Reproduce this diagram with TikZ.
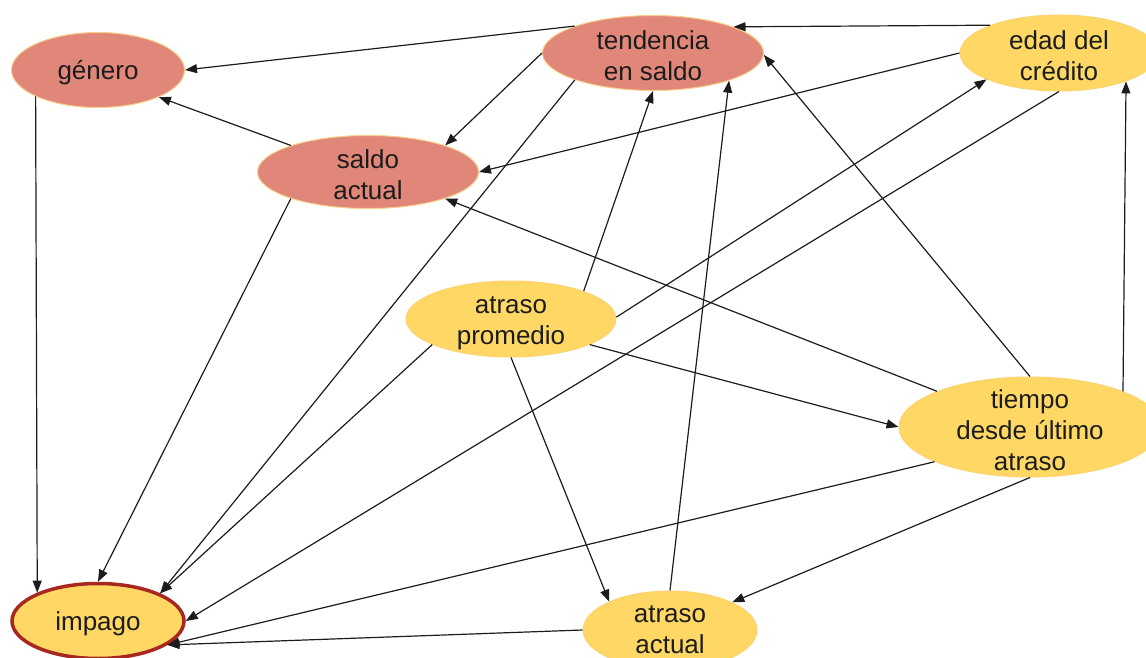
\documentclass[tikz,border=0pt]{standalone}
\usepackage{fontspec}
\setmainfont{Liberation Sans}
\usetikzlibrary{shapes.geometric,arrows.meta}
\definecolor{salmon}{HTML}{E0877A}
\definecolor{salmonrim}{HTML}{F8CD85}
\definecolor{gold}{HTML}{FED764}
\definecolor{goldrim}{HTML}{FCD36E}
\definecolor{darkred}{HTML}{A6281F}
\definecolor{ink}{HTML}{1C1C1C}
% taller first line, so the label block sits a little lower in its ellipse
\newcommand\firstline{\rule{0pt}{25pt}}
\begin{document}
\begin{tikzpicture}[x=1pt,y=-1pt,
  var/.style={ellipse, inner xsep=0pt, inner ysep=-14pt, align=center, text=ink,
    font=\fontsize{26}{31}\selectfont, line width=1pt},
  redvar/.style={var, fill=salmon, draw=salmonrim},
  yelvar/.style={var, fill=gold, draw=goldrim},
  outcome/.style={var, fill=gold, draw=darkred, line width=3.5pt},
  link/.style={draw=ink, line width=1.2pt, -{Triangle[length=12pt,width=9pt]}}
]
\useasboundingbox (0,0) rectangle (1146,658);

% variables
\node[redvar, minimum width=173pt, minimum height=75pt] (genero) at (98,70) {\firstline género};
\node[redvar, minimum width=221pt, minimum height=75pt] (tend) at (653,53) {\firstline tendencia\\en saldo};
\node[yelvar, minimum width=198pt, minimum height=76pt] (edad) at (1059,53) {\firstline edad del\\crédito};
\node[redvar, minimum width=221pt, minimum height=73pt] (saldo) at (368,172) {\firstline saldo\\actual};
\node[yelvar, minimum width=210pt, minimum height=76pt] (prom) at (511,319) {\firstline atraso\\promedio};
\node[yelvar, minimum width=262pt, minimum height=100pt] (tiempo) at (1030,427) {\firstline tiempo\\desde último\\atraso};
\node[outcome, minimum width=172pt, minimum height=75pt] (impago) at (98,621) {\firstline impago};
\node[yelvar, minimum width=174pt, minimum height=78pt] (actual) at (670,630) {atraso\\actual};

% dependencies
\path[link] (tend.161.6) -- (genero.0);
\path[link] (edad.158.6) -- (tend.18.2);
\path[link] (edad.180) -- (saldo.0);
\path[link] (saldo.161.6) -- (genero.-24);
\path[link] (genero.203.6) -- (impago.155.3);
\path[link] (tend.180) -- (saldo.19.9);
\path[link] (tend.199.1) -- (impago.24.3);
\path[link] (saldo.199.7) -- (impago.90);
\path[link] (prom.21.7) -- (tend.-90);
\path[link] (prom.1) -- (edad.200.4);
\path[link] (edad.-90) -- (impago.0);
\path[link] (prom.198) -- (impago.24.3);
\path[link] (prom.-18.7) -- (tiempo.180);
\path[link] (prom.-90) -- (actual.155);
\path[link] (tiempo.159.7) -- (saldo.-19.3);
\path[link] (tiempo.90) -- (tend.-1);
\path[link] (tiempo.21.5) -- (edad.-23.1);
\path[link] (tiempo.200.6) -- (impago.-19.9);
\path[link] (tiempo.-90) -- (actual.24.3);
\path[link] (actual.90) -- (tend.-20.6);
\path[link] (actual.180) -- (impago.-19.9);
\end{tikzpicture}
\end{document}
